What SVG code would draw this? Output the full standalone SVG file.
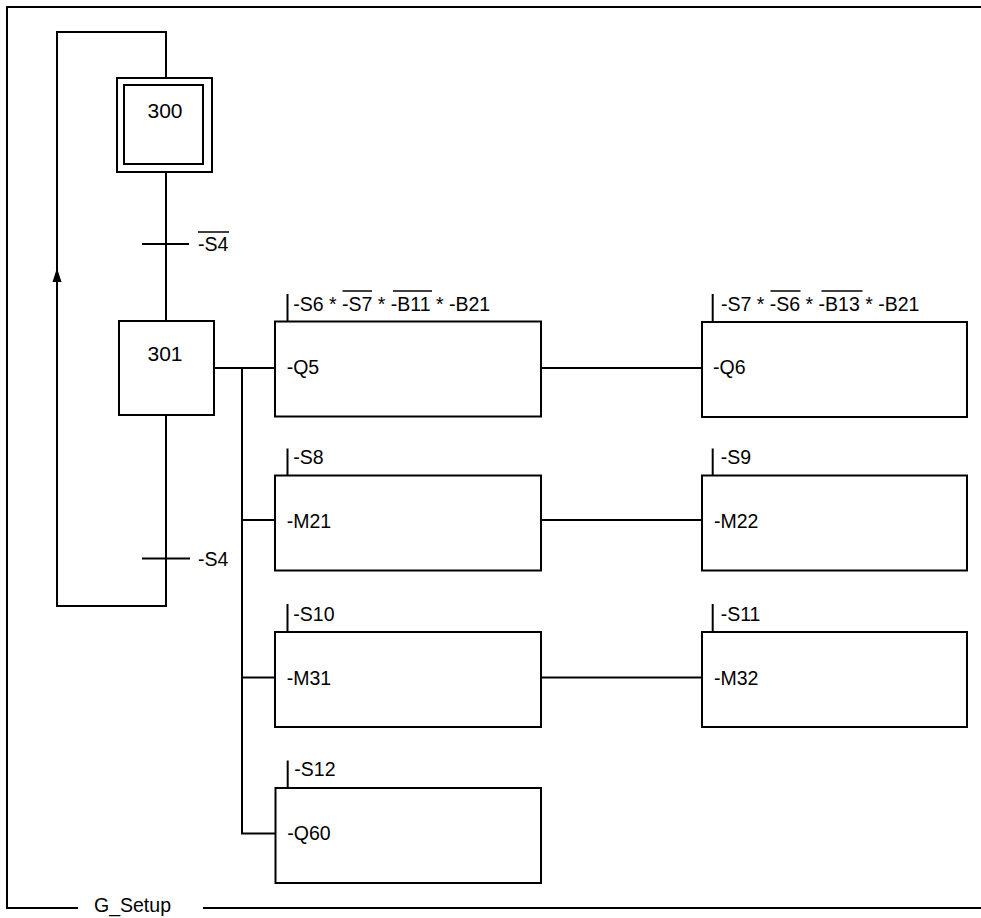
<svg xmlns="http://www.w3.org/2000/svg" width="981" height="918" viewBox="0 0 981 918">
<style>
.ln{fill:none;stroke:#000;stroke-width:2}
.box{fill:#fff;stroke:#000;stroke-width:2}
.ob{stroke:#000;stroke-width:1.5}
text{font-family:"Liberation Sans",Arial,Helvetica,sans-serif;font-size:19.5px;fill:#000}
.step{font-size:21px;text-anchor:middle}
</style>
<rect width="981" height="918" fill="#fff"/>
<g id="frame">
<path class="ln" d="M981,7 H7 V908 H78"/>
<path class="ln" d="M203,908 H981"/>
<text x="94" y="912">G_Setup</text>
</g>
<g id="connectors">
<path class="ln" d="M166,172 V321"/>
<path class="ln" d="M166,415 V606 H57 V282"/>
<path d="M57,282 L52.5,282 L57,268 L61.5,282 Z" fill="#000"/>
<path class="ln" d="M57,282 V32 H166 V78"/>
<path class="ln" d="M214,368 H275"/>
<path class="ln" d="M242,368 V833.5 H275"/>
<path class="ln" d="M242,520 H275"/>
<path class="ln" d="M242,677.5 H275"/>
<path class="ln" d="M541,368 H702"/>
<path class="ln" d="M541,520 H702"/>
<path class="ln" d="M541,677.5 H702"/>
</g>
<g id="t300">
<path class="ln" d="M142,244 H189"/>
<text x="198" y="251">-S4</text>
<line class="ob" x1="198" y1="232" x2="229" y2="232"/>
</g>
<g id="t301">
<path class="ln" d="M142,558.5 H190"/>
<text x="198" y="566">-S4</text>
</g>
<g id="step300">
<rect class="box" x="117" y="78" width="95" height="94"/>
<rect class="box" x="124" y="85" width="79" height="79"/>
<text class="step" x="165" y="118">300</text>
</g>
<g id="step301">
<rect class="box" x="119" y="321" width="95" height="94"/>
<text class="step" x="165" y="361">301</text>
</g>
<g id="actQ5">
<rect class="box" x="275" y="321.5" width="266" height="95"/>
<path class="ln" d="M287.5,294 V321.5"/>
<text x="293.3" y="311">-S6 * -S7 * -B11 * -B21</text>
<line class="ob" x1="342.5" y1="291" x2="372" y2="291"/>
<line class="ob" x1="393" y1="291" x2="432" y2="291"/>
<text x="286.7" y="373.5">-Q5</text>
</g>
<g id="actQ6">
<rect class="box" x="702" y="322" width="265" height="95"/>
<path class="ln" d="M712.7,294 V322"/>
<text x="721" y="311">-S7 * -S6 * -B13 * -B21</text>
<line class="ob" x1="770.5" y1="291" x2="800.5" y2="291"/>
<line class="ob" x1="821.5" y1="291" x2="862.5" y2="291"/>
<text x="713" y="373.5">-Q6</text>
</g>
<g id="actM21">
<rect class="box" x="275" y="475.5" width="266" height="95"/>
<path class="ln" d="M287.5,448.5 V475.5"/>
<text x="293.3" y="463.5">-S8</text>
<text x="286.7" y="527.5">-M21</text>
</g>
<g id="actM22">
<rect class="box" x="702" y="475.5" width="265" height="95"/>
<path class="ln" d="M712.7,448.5 V475.5"/>
<text x="720.7" y="463.5">-S9</text>
<text x="714" y="527.5">-M22</text>
</g>
<g id="actM31">
<rect class="box" x="275" y="632" width="266" height="95"/>
<path class="ln" d="M287.5,604 V632"/>
<text x="293.3" y="621">-S10</text>
<text x="286.7" y="685">-M31</text>
</g>
<g id="actM32">
<rect class="box" x="702" y="632" width="265" height="95"/>
<path class="ln" d="M712.7,604 V632"/>
<text x="720.7" y="621">-S11</text>
<text x="714" y="685">-M32</text>
</g>
<g id="actQ60">
<rect class="box" x="275.5" y="788" width="265.5" height="95"/>
<path class="ln" d="M287.7,760.5 V788"/>
<text x="294.3" y="776">-S12</text>
<text x="287.3" y="840">-Q60</text>
</g>
</svg>
